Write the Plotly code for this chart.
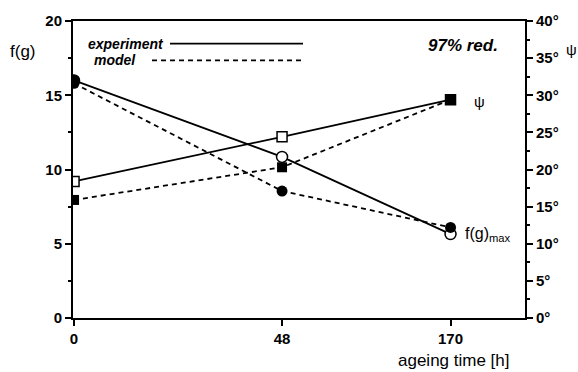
import plotly.graph_objects as go

# Data
ageing_time_labels = ["0", "48", "170"]
axis_position = [0, 1.0, 1.81]          # non-uniform placement along the x axis
fg_experiment = [16.0, 10.85, 5.65]     # f(g)max, open circles
fg_model = [15.8, 8.55, 6.1]            # f(g)max, filled circles
psi_experiment = [18.4, 24.4, 29.4]     # degrees, open squares
psi_model = [15.9, 20.3, 29.4]          # degrees, filled squares

FONT = "Liberation Sans, Arial, sans-serif"
W, H = 578, 372
ML, MR, MT, MB = 73, 53, 17, 54

fig = go.Figure()

# psi traces (right axis)
fig.add_trace(go.Scatter(
    x=axis_position, y=psi_experiment, yaxis="y2", mode="lines+markers",
    line=dict(color="black", width=1.8),
    marker=dict(symbol="square", size=10, color="white", line=dict(color="black", width=1.5)),
    showlegend=False))
fig.add_trace(go.Scatter(
    x=axis_position, y=psi_model, yaxis="y2", mode="lines+markers",
    line=dict(color="black", width=1.8, dash="5px,4px"),
    marker=dict(symbol="square", size=10, color="black"),
    showlegend=False))

# f(g) traces (left axis)
fig.add_trace(go.Scatter(
    x=axis_position, y=fg_experiment, mode="lines+markers",
    line=dict(color="black", width=1.8),
    marker=dict(symbol="circle", size=11, color=["black", "white", "white"],
                line=dict(color="black", width=1.5)),
    showlegend=False))
fig.add_trace(go.Scatter(
    x=axis_position, y=fg_model, mode="lines+markers",
    line=dict(color="black", width=1.8, dash="5px,4px"),
    marker=dict(symbol="circle", size=11, color="black"),
    showlegend=False))

tickfont = dict(family=FONT, size=15, color="black", weight="bold")

fig.update_layout(
    width=W, height=H,
    margin=dict(l=ML, r=MR, t=MT, b=MB),
    paper_bgcolor="white", plot_bgcolor="white",
    xaxis=dict(
        range=[-0.005, 2.168], tickmode="array", tickvals=axis_position,
        ticktext=ageing_time_labels, ticks="outside", ticklen=6, tickwidth=1.5,
        tickcolor="black", showline=True, linecolor="black", linewidth=1.5,
        mirror=True, showgrid=False, zeroline=False, tickfont=tickfont),
    yaxis=dict(
        range=[0, 20], dtick=5, ticks="outside", ticklen=6, tickwidth=1.5,
        tickcolor="black", showline=True, linecolor="black", linewidth=2,
        showgrid=False, zeroline=False, tickfont=tickfont,
        minor=dict(dtick=2.5, ticks="outside", ticklen=3, tickcolor="black", showgrid=False)),
    yaxis2=dict(
        range=[0, 40], dtick=5, overlaying="y", side="right", ticksuffix="°",
        ticks="outside", ticklen=6, tickwidth=1.5, tickcolor="black",
        showline=True, linecolor="black", linewidth=2, showgrid=False,
        zeroline=False, tickfont=tickfont,
        minor=dict(dtick=2.5, ticks="outside", ticklen=3, tickcolor="black", showgrid=False)),
)


def px_x(v):
    return (v - ML) / (W - ML - MR)


def px_y(v):
    return (H - MB - v) / (H - MT - MB)


ann = [
    dict(text="f(g)", x=8, y=48, xanchor="left", size=17),
    dict(text="ψ", x=571, y=46, xanchor="center", size=15),
    dict(text="ageing time [h]", x=512, y=361, xanchor="right", size=17),
    dict(text="<b><i>experiment</i></b>", x=166, y=40, xanchor="right", size=14),
    dict(text="<b><i>model</i></b>", x=138, y=57, xanchor="right", size=14),
    dict(text="<b><i>97% red.</i></b>", x=500, y=42, xanchor="right", size=17),
    dict(text="ψ", x=472, y=99, xanchor="left", size=15),
    dict(text="f(g)<sub>max</sub>", x=463, y=233, xanchor="left", size=16),
]
for a in ann:
    fig.add_annotation(
        text=a["text"], xref="paper", yref="paper",
        x=px_x(a["x"]), y=px_y(a["y"]),
        xanchor=a["xanchor"], yanchor="middle", showarrow=False,
        font=dict(family=FONT, size=a["size"], color="black"))

fig.add_shape(type="line", xref="paper", yref="paper",
              x0=px_x(170), x1=px_x(303), y0=px_y(40), y1=px_y(40),
              line=dict(color="black", width=1.8))
fig.add_shape(type="line", xref="paper", yref="paper",
              x0=px_x(152), x1=px_x(303), y0=px_y(57), y1=px_y(57),
              line=dict(color="black", width=1.8, dash="5px,4px"))

fig.write_html("out.html", config={"displayModeBar": False},
               post_script="document.body.style.margin='0';document.body.style.overflow='hidden';")
